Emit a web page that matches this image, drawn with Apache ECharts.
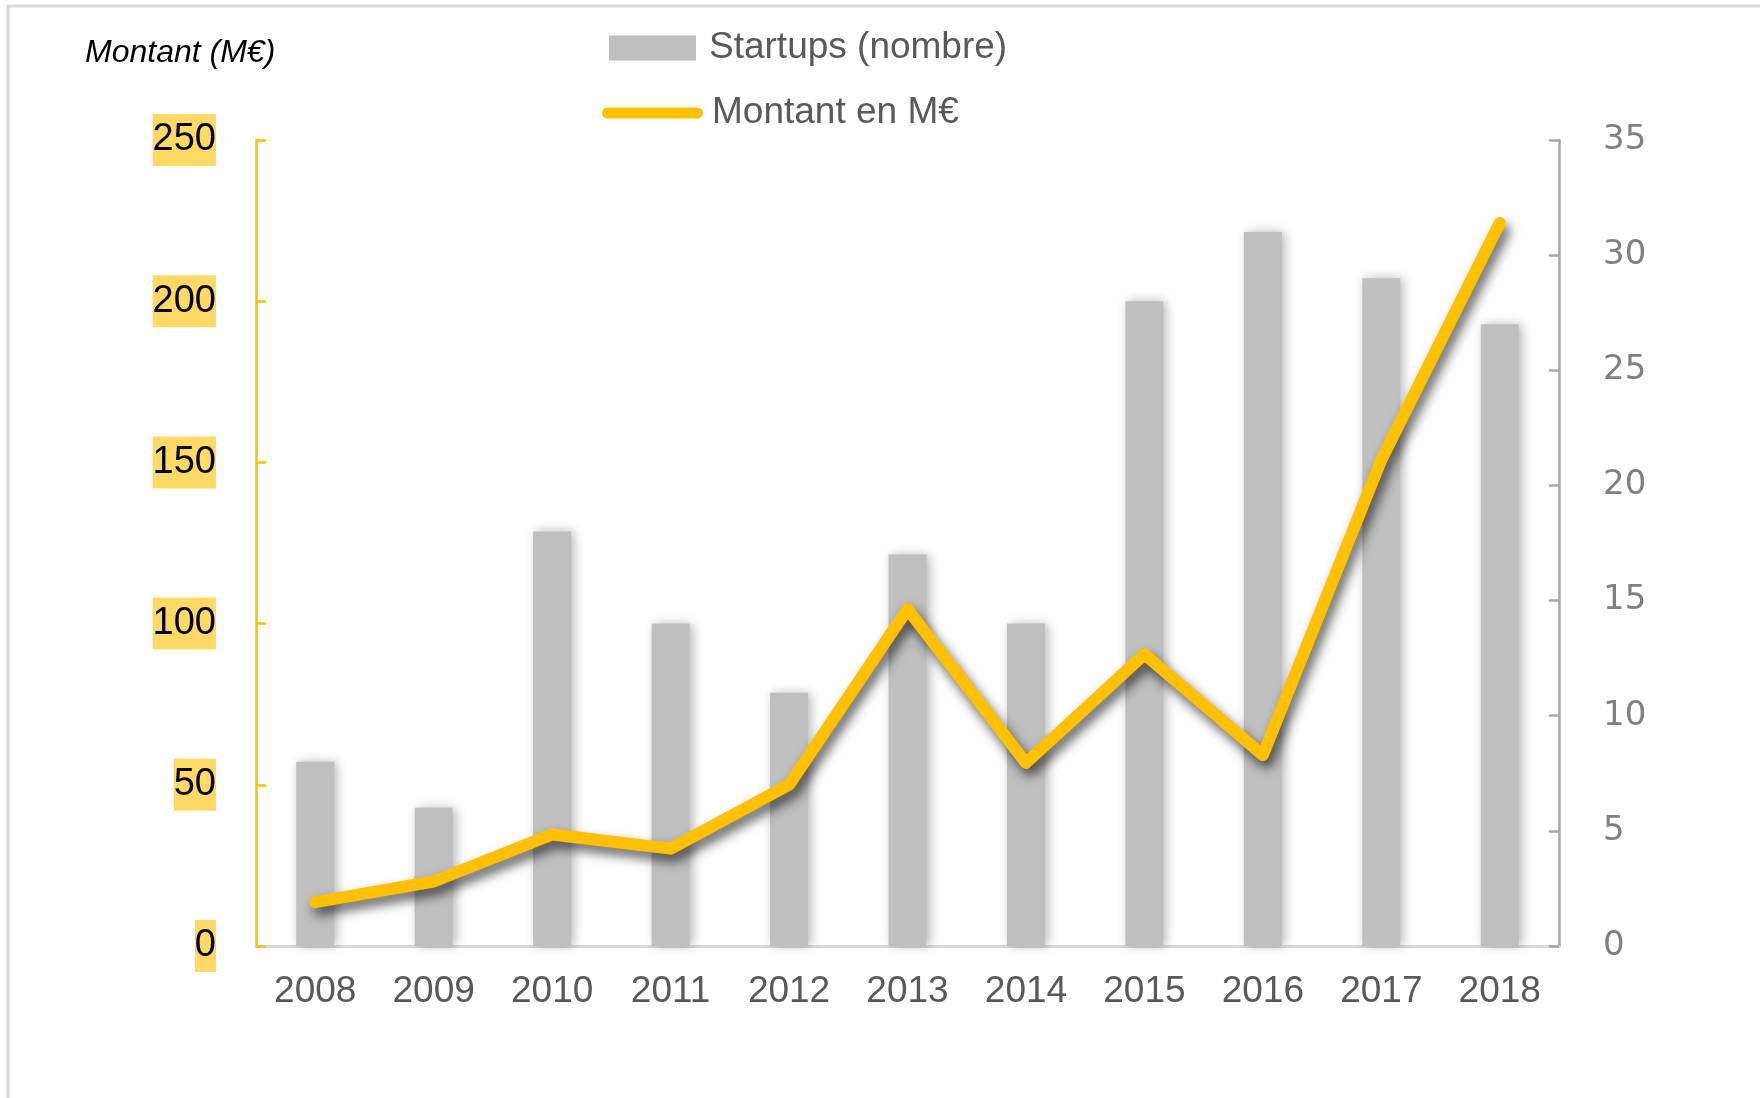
<!DOCTYPE html>
<html>
<head>
<meta charset="utf-8">
<script src="https://cdn.jsdelivr.net/npm/echarts@6/dist/echarts.min.js"></script>
<style>
html,body{margin:0;padding:0;background:#fff;}
#chart{width:1760px;height:1098px;}
</style>
</head>
<body>
<div id="chart"></div>
<script>
const years = ['2008','2009','2010','2011','2012','2013','2014','2015','2016','2017','2018'];
const startups = [8, 6, 18, 14, 11, 17, 14, 28, 31, 29, 27];
const montant = [13.6, 20, 34.6, 30.2, 50, 104.5, 56.8, 90.5, 59.2, 150.8, 224.3];
const barName = 'Startups (nombre)';
const lineName = 'Montant en M€';
const leftTitle = 'Montant (M€)';

const FONT = '"Liberation Sans", Arial, sans-serif';
const chart = echarts.init(document.getElementById('chart'), null, {renderer: 'canvas'});
chart.setOption({
  backgroundColor: '#fff',
  animation: false,
  title: {
    text: leftTitle,
    left: 85, top: 37, padding: 0,
    textStyle: {fontFamily: FONT, fontStyle: 'italic', fontWeight: 'normal', fontSize: 32, color: '#000'}
  },
  graphic: [{
    type: 'rect', shape: {x: 8, y: 6, width: 1800, height: 1200},
    style: {fill: 'none', stroke: '#D9D9D9', lineWidth: 3}, silent: true
  }],
  legend: [{
    data: [{name: barName, icon: 'rect'}],
    left: 609, top: 28, padding: 0,
    itemWidth: 87, itemHeight: 25,
    itemStyle: {shadowBlur: 0, shadowColor: 'rgba(0,0,0,0)', shadowOffsetX: 0, shadowOffsetY: 0},
    textStyle: {fontFamily: FONT, fontSize: 37, color: '#595959', lineHeight: 40, padding: [0, 0, 0, 8]}
  }, {
    data: [{name: lineName, icon: 'path://M5.5,0H95.5A5.5,5.5,0,0,1,95.5,11H5.5A5.5,5.5,0,0,1,5.5,0Z', itemStyle: {color: '#FFC000'}}],
    left: 602, top: 93, padding: 0,
    itemWidth: 101, itemHeight: 11,
    symbolKeepAspect: false,
    itemStyle: {shadowBlur: 0, shadowColor: 'rgba(0,0,0,0)', shadowOffsetX: 0, shadowOffsetY: 0},
    textStyle: {fontFamily: FONT, fontSize: 37, color: '#595959', lineHeight: 40, padding: [0, 0, 0, 4]}
  }],
  grid: {left: 256, right: 201, top: 140, bottom: 152, containLabel: false},
  xAxis: {
    type: 'category',
    data: years,
    boundaryGap: true,
    axisLine: {lineStyle: {color: '#D9D9D9', width: 3}},
    axisTick: {show: false},
    axisLabel: {fontFamily: FONT, fontSize: 37, color: '#595959', margin: 27},
    splitLine: {show: false}
  },
  yAxis: [{
    type: 'value', min: 0, max: 250, interval: 50, position: 'left',
    axisLine: {show: true, lineStyle: {color: '#FFC000', width: 2.5}},
    axisTick: {show: true, inside: true, length: 10, lineStyle: {color: '#FFC000', width: 2.5}},
    axisLabel: {fontFamily: FONT, fontSize: 38, color: '#000', margin: 40,
      backgroundColor: '#FFD966', padding: [7, 0, 5, 0], lineHeight: 40},
    splitLine: {show: false}
  }, {
    type: 'value', min: 0, max: 35, interval: 5, position: 'right',
    axisLine: {show: true, lineStyle: {color: '#A6A6A6', width: 2.5}},
    axisTick: {show: true, inside: true, length: 10, lineStyle: {color: '#A6A6A6', width: 2.5}},
    axisLabel: {fontFamily: '"DejaVu Sans", sans-serif', fontSize: 34, color: '#808080', margin: 44},
    splitLine: {show: false}
  }],
  series: [{
    name: barName,
    type: 'bar',
    yAxisIndex: 1,
    data: startups,
    barWidth: 38,
    itemStyle: {color: '#BFBFBF', shadowColor: 'rgba(0,0,0,0.28)', shadowBlur: 10, shadowOffsetX: 3, shadowOffsetY: 0},
    z: 2
  }, {
    name: lineName,
    type: 'line',
    yAxisIndex: 0,
    data: montant,
    color: '#FFC000',
    symbol: 'none',
    lineStyle: {color: '#FFC000', width: 12, cap: 'round', join: 'round',
      shadowColor: 'rgba(0,0,0,0.65)', shadowBlur: 12, shadowOffsetX: 4, shadowOffsetY: 7},
    z: 3
  }]
});
</script>
</body>
</html>
